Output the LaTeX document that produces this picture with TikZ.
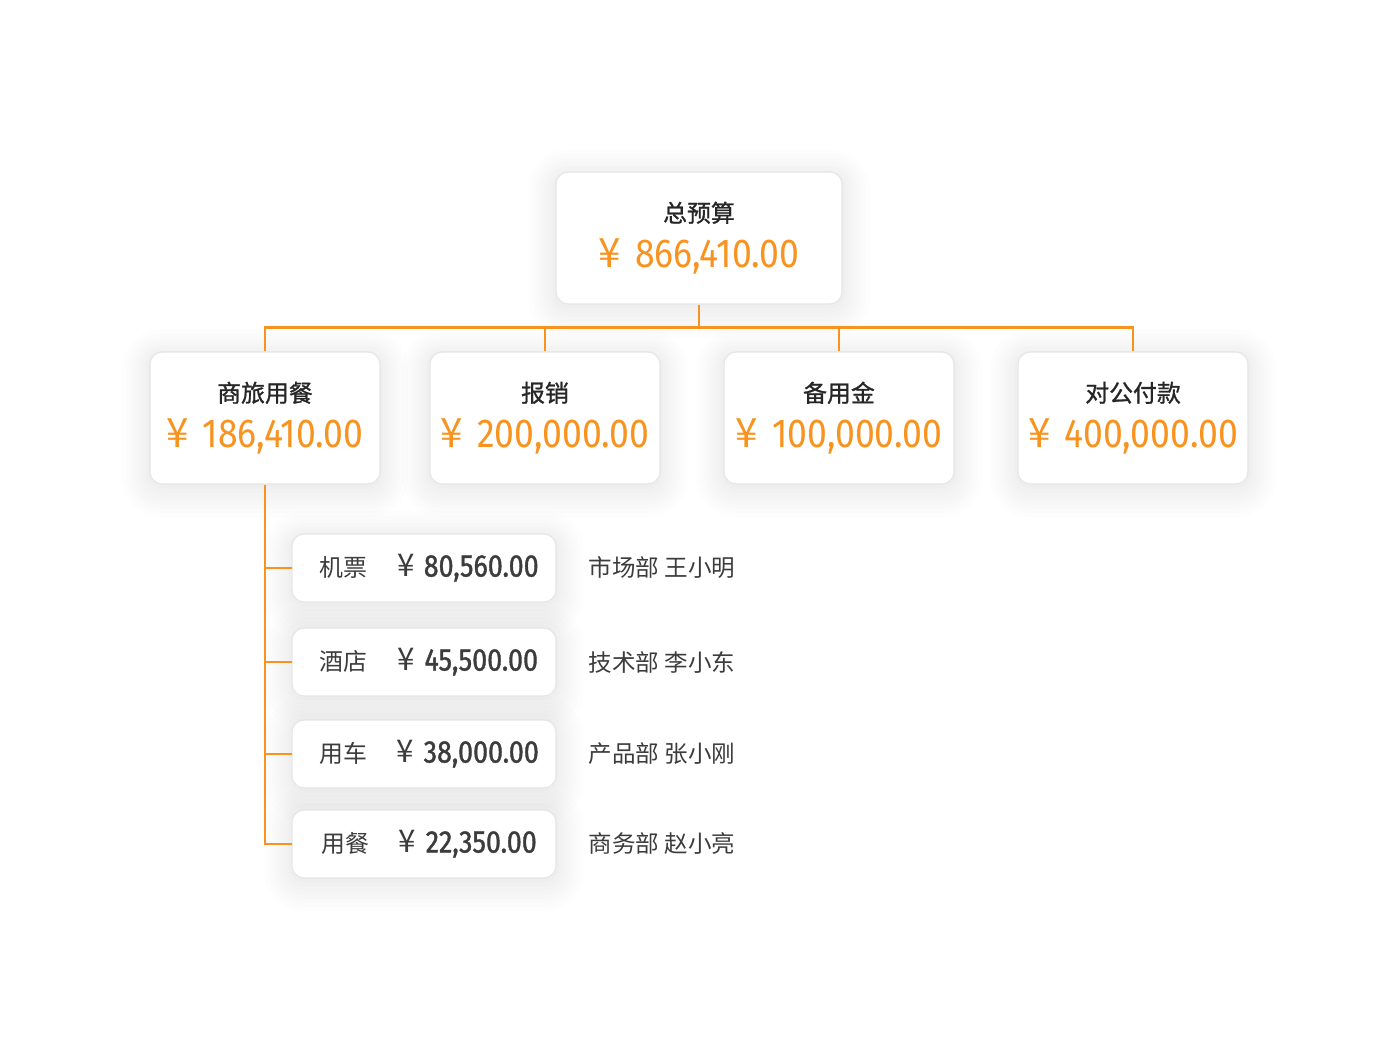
\documentclass[tikz,border=0pt]{standalone}
\usepackage{fontspec}
\setmainfont{Noto Sans CJK SC}
\newfontfamily\cjkmed[FakeBold=1]{Noto Sans CJK SC}
\newfontfamily\cjkreg{Noto Sans CJK SC}
\newfontfamily\numfont[FakeStretch=0.88]{Fira Sans}
\newfontfamily\numbold[FakeStretch=0.86, FakeBold=1.2]{Fira Sans}
\usetikzlibrary{positioning}
\definecolor{corange}{HTML}{F7931E}
\definecolor{cink}{HTML}{262626}
\definecolor{cline}{HTML}{E6E6E6}
\newcommand\rmb{{\cjkreg ¥}}
\newcommand\headfont{\cjkmed\fontsize{13.6}{16}\selectfont\color{cink}}
\newcommand\amtfont{\numfont\fontsize{23}{26}\selectfont\color{corange}}
\tikzset{
  every picture/.style={line width=1.3pt},
  soft/.style={
    preaction={draw=black, draw opacity=0.007, line width=32pt, transform canvas={yshift=-3pt}},
    preaction={draw=black, draw opacity=0.007, line width=27pt, transform canvas={yshift=-3pt}},
    preaction={draw=black, draw opacity=0.007, line width=22pt, transform canvas={yshift=-3pt}},
    preaction={draw=black, draw opacity=0.007, line width=18pt, transform canvas={yshift=-3pt}},
    preaction={draw=black, draw opacity=0.007, line width=14pt, transform canvas={yshift=-3pt}},
    preaction={draw=black, draw opacity=0.007, line width=10pt, transform canvas={yshift=-2pt}},
    preaction={draw=black, draw opacity=0.008, line width=6pt, transform canvas={yshift=-2pt}},
    preaction={draw=black, draw opacity=0.010, line width=3pt, transform canvas={yshift=-1pt}}},
  link/.style={draw=corange, line width=1.3pt},
  who/.style={inner sep=0pt, anchor=west, text=cink!90, font=\cjkreg\fontsize{13.4}{16}\selectfont},
}

\begin{document}
\begin{tikzpicture}[x=0.02cm, y=-0.02cm,
  bigbox/.style={soft, rounded corners=7pt, draw=cline, line width=0.6pt, fill=white, minimum width=5.72cm, minimum height=2.64cm, align=center, font=\fontsize{13.6}{26}\selectfont},
  midbox/.style={bigbox, minimum width=4.6cm},
  rowbox/.style={soft, rounded corners=7pt, draw=cline, line width=0.6pt, fill=white, minimum width=5.28cm, minimum height=1.36cm, inner sep=0pt, font=\cjkreg\fontsize{13.6}{16}\selectfont, text=cink!90}]
  \useasboundingbox[fill=white] (0,0) rectangle (1400,1050);
  % top
  \node[bigbox] (total) at (699,238) {{\headfont 总预算}\\{\amtfont\rmb\hspace{0.35em}866,410.00}};
  % second row
  \node[midbox] (travel) at (265,418) {{\headfont 商旅用餐}\\{\amtfont\rmb\hspace{0.35em}186,410.00}};
  \node[midbox] (claim) at (545,418) {{\headfont 报销}\\{\amtfont\rmb\hspace{0.35em}200,000.00}};
  \node[midbox] (reserve) at (839,418) {{\headfont 备用金}\\{\amtfont\rmb\hspace{0.35em}100,000.00}};
  \node[midbox] (corp) at (1133,418) {{\headfont 对公付款}\\{\amtfont\rmb\hspace{0.35em}400,000.00}};
  % details
  \node[rowbox] (air) at (424,568) {\hspace{0.2cm}机票\hspace{0.6cm}{\fontsize{17.8}{20}\selectfont\rmb\hspace{0.3em}\numbold 80,560.00}};
  \node[rowbox] (hotel) at (424,662) {\hspace{0.2cm}酒店\hspace{0.6cm}{\fontsize{17.8}{20}\selectfont\rmb\hspace{0.3em}\numbold 45,500.00}};
  \node[rowbox] (car) at (424,754) {\hspace{0.2cm}用车\hspace{0.6cm}{\fontsize{17.8}{20}\selectfont\rmb\hspace{0.3em}\numbold 38,000.00}};
  \node[rowbox] (meal) at (424,844) {\hspace{0.2cm}用餐\hspace{0.6cm}{\fontsize{17.8}{20}\selectfont\rmb\hspace{0.3em}\numbold 22,350.00}};
  \node[who, right=0.62cm of air] (w1) {市场部 王小明};
  \node[who, right=0.62cm of hotel] (w2) {技术部 李小东};
  \node[who, right=0.62cm of car] (w3) {产品部 张小刚};
  \node[who, right=0.62cm of meal] (w4) {商务部 赵小亮};
  % connectors
  \draw[link] (total.south) -- ++(0,23) coordinate (bus);
  \draw[link] (bus) -| (travel.north);
  \draw[link] (bus) -| (claim.north);
  \draw[link] (bus) -| (reserve.north);
  \draw[link] (bus) -| (corp.north);
  \draw[link] (travel.south) |- (air.west);
  \draw[link] (travel.south) |- (hotel.west);
  \draw[link] (travel.south) |- (car.west);
  \draw[link] (travel.south) |- (meal.west);
\end{tikzpicture}
\end{document}
